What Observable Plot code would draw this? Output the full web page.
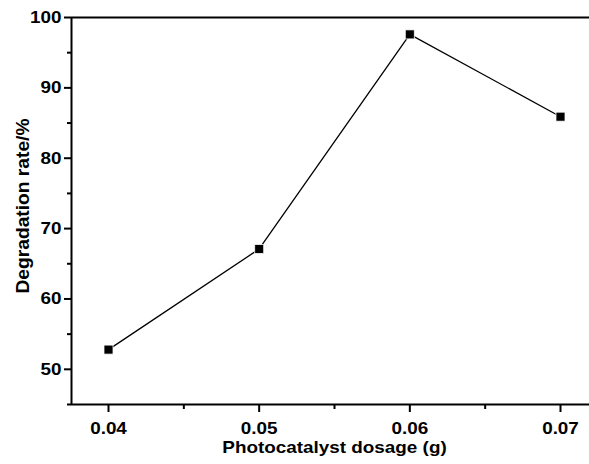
<!DOCTYPE html>
<html>
<head>
<meta charset="utf-8">
<script src="https://cdn.jsdelivr.net/npm/d3@7"></script>
<script src="https://cdn.jsdelivr.net/npm/@observablehq/plot@0.6"></script>
<style>
  html, body { margin: 0; padding: 0; background: #fff; }
</style>
</head>
<body>
<div id="chart"></div>
<script>
const dosage = [0.04, 0.05, 0.06, 0.07];
const rate = [52.8, 67.1, 97.6, 85.9];
const xMajorTicks = [0.04, 0.05, 0.06, 0.07];
const xMinorTicks = [0.045, 0.055, 0.065];
const yMajorTicks = [50, 60, 70, 80, 90, 100];
const yMinorTicks = [45, 55, 65, 75, 85, 95];
const xLabel = "Photocatalyst dosage (g)";
const yLabel = "Degradation rate/%";

const data = dosage.map((d, i) => ({x: d, y: rate[i]}));

const chart = Plot.plot({
  width: 589,
  height: 464,
  marginLeft: 71,
  marginRight: 0,
  marginTop: 17,
  marginBottom: 60,
  style: {fontFamily: "'Liberation Sans', Arial, sans-serif", fontSize: "17px", fontWeight: "bold", color: "#000", background: "#fff"},
  x: {domain: [0.037544, 0.071925]},
  y: {domain: [45, 100]},
  marks: [
    Plot.axisX(xMajorTicks, {tickSize: 8, tickPadding: 9, strokeWidth: 2, tickFormat: d3.format(".2f"), label: null, fontSize: 17, fontWeight: "bold"}),
    Plot.axisX(xMinorTicks, {tickSize: 5, strokeWidth: 2, tickFormat: () => "", label: null}),
    Plot.axisY(yMajorTicks, {tickSize: 7, tickPadding: 3, strokeWidth: 2, label: null, fontSize: 17, fontWeight: "bold"}),
    Plot.axisY(yMinorTicks, {tickSize: 4, strokeWidth: 2, tickFormat: () => "", label: null}),
    Plot.ruleY([45], {stroke: "#000", strokeWidth: 2}),
    Plot.ruleY([100], {stroke: "#000", strokeWidth: 2}),
    Plot.ruleX([0.037544], {stroke: "#000", strokeWidth: 2}),
    Plot.line(data, {x: "x", y: "y", stroke: "#000", strokeWidth: 1.3}),
    Plot.dot(data, {x: "x", y: "y", symbol: "square", r: 5.1, fill: "#000", stroke: "#fff", strokeWidth: 0.8}),
    Plot.text([xLabel], {frameAnchor: "bottom", textAnchor: "middle", dx: 4, dy: 43, lineAnchor: "middle", fontSize: 17, fontWeight: "bold", fill: "#000"}),
    Plot.text([yLabel], {frameAnchor: "left", textAnchor: "middle", dx: -48, dy: -5, rotate: -90, lineAnchor: "middle", fontSize: 18.5, fontWeight: "bold", fill: "#000"})
  ]
});
document.getElementById("chart").appendChild(chart);
// slightly wider glyphs, as in the reference raster
d3.select(chart).selectAll("text").each(function() {
  const s = this.textContent;
  if (!s) return;
  const w = this.getComputedTextLength();
  if (w > 0) {
    const target = s === yLabel ? 175 : w * 1.11;
    this.setAttribute("textLength", target.toFixed(2));
    this.setAttribute("lengthAdjust", "spacingAndGlyphs");
  }
});
</script>
</body>
</html>
